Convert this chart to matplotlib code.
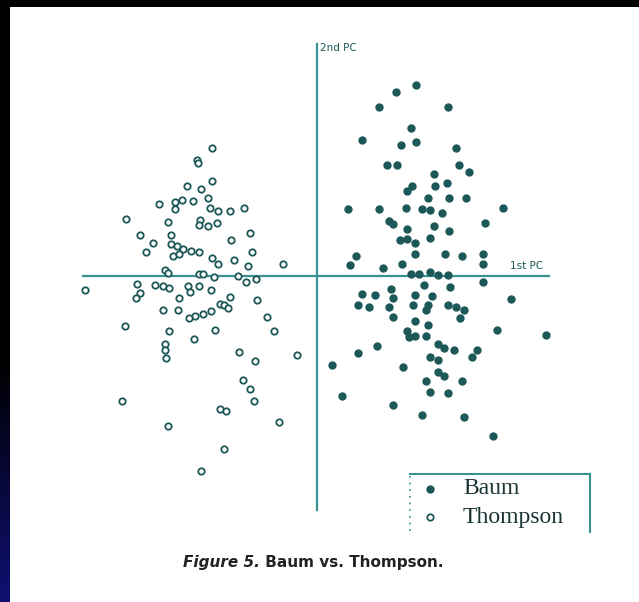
import numpy as np
import matplotlib
matplotlib.use("Agg")
import matplotlib.pyplot as plt
from matplotlib.patches import Rectangle

# principal component scores for each speaker
baum_pc1 = [1.99, 1.59, 1.24, 2.63, 1.88, 0.91, 1.69, 1.99, 2.79, 1.40,
            1.61, 2.85, 3.05, 2.34, 1.81, 1.91, 2.36, 2.61, 0.63, 1.24,
            1.79, 2.10, 2.26, 2.50, 2.22, 2.65, 2.99, 3.73, 1.44, 1.53,
            1.81, 2.34, 2.65, 3.36, 1.66, 1.81, 1.97, 2.26, 0.79, 0.67,
            1.97, 2.56, 2.91, 3.32, 3.32, 1.32, 1.71, 1.89, 2.05, 2.26,
            2.42, 2.63, 3.32, 2.14, 2.67, 1.48, 0.91, 1.16, 1.53, 1.97,
            2.30, 3.89, 0.83, 1.04, 1.44, 1.93, 2.22, 2.18, 2.63, 2.79,
            2.95, 2.87, 1.53, 1.97, 2.22, 1.81, 1.85, 1.97, 2.18, 3.60,
            4.58, 0.83, 1.20, 2.42, 2.54, 2.75, 3.20, 3.11, 2.26, 2.42,
            0.30, 1.73, 2.42, 2.54, 2.18, 2.91, 2.26, 2.63, 0.51, 1.53,
            2.10, 2.95, 3.52]
baum_pc2 = [3.82, 3.69, 3.39, 3.39, 2.97, 2.73, 2.62, 2.69, 2.56, 2.22,
            2.23, 2.22, 2.08, 2.05, 1.71, 1.81, 1.81, 1.87, 1.34, 1.34,
            1.37, 1.34, 1.32, 1.27, 1.57, 1.57, 1.57, 1.37, 1.11, 1.05,
            0.95, 1.01, 0.90, 1.07, 0.72, 0.74, 0.67, 0.76, 0.40, 0.22,
            0.44, 0.44, 0.40, 0.44, 0.24, 0.17, 0.24, 0.05, 0.05, 0.08,
            0.03, 0.03, -0.12, -0.18, -0.22, -0.25, -0.36, -0.38, -0.43, -0.38,
            -0.39, -0.45, -0.58, -0.62, -0.62, -0.58, -0.58, -0.68, -0.58, -0.62,
            -0.68, -0.84, -0.81, -0.89, -0.97, -1.10, -1.22, -1.20, -1.20, -1.07,
            -1.18, -1.54, -1.39, -1.35, -1.43, -1.48, -1.47, -1.61, -1.62, -1.67,
            -1.77, -1.81, -1.91, -2.00, -2.10, -2.10, -2.31, -2.33, -2.39, -2.58,
            -2.77, -2.81, -3.19]

thompson_pc1 = [-2.10, -2.39, -2.37, -2.59, -2.32, -2.10, -3.16, -2.84, -2.69, -2.47,
                -2.18, -2.14, -1.98, -1.74, -1.45, -2.84, -3.81, -2.97, -2.33, -2.36,
                -2.18, -2.00, -1.34, -3.53, -3.28, -3.42, -2.92, -2.92, -2.79, -2.67,
                -2.51, -2.35, -2.88, -2.75, -1.71, -1.29, -2.10, -1.98, -1.65, -1.37,
                -0.68, -3.04, -2.98, -2.35, -2.28, -2.06, -1.57, -1.22, -1.41, -4.63,
                -3.59, -3.54, -3.61, -3.24, -3.08, -2.96, -2.57, -2.53, -2.35, -2.12,
                -2.75, -1.74, -1.19, -1.94, -1.86, -1.78, -2.12, -2.27, -2.43, -2.55,
                -3.08, -2.77, -3.83, -1.00, -2.96, -2.04, -2.45, -0.86, -3.04, -3.04,
                -3.01, -1.56, -1.23, -0.39, -1.47, -1.34, -1.25, -3.89, -1.94, -1.82,
                -0.76, -2.97, -1.86, -2.32]
thompson_pc2 = [2.56, 2.33, 2.26, 1.80, 1.74, 1.90, 1.45, 1.49, 1.53, 1.51,
                1.57, 1.37, 1.31, 1.31, 1.36, 1.34, 1.14, 1.08, 1.13, 1.03,
                1.01, 1.07, 0.87, 0.82, 0.67, 0.49, 0.82, 0.64, 0.61, 0.54,
                0.51, 0.49, 0.41, 0.44, 0.72, 0.48, 0.36, 0.24, 0.32, 0.21,
                0.24, 0.13, 0.07, 0.05, 0.05, -0.02, 0.01, -0.05, -0.12, -0.28,
                -0.16, -0.33, -0.43, -0.18, -0.20, -0.24, -0.20, -0.32, -0.20, -0.28,
                -0.43, -0.42, -0.48, -0.55, -0.58, -0.64, -0.70, -0.76, -0.79, -0.84,
                -0.68, -0.68, -0.99, -0.81, -1.10, -1.08, -1.25, -1.10, -1.35, -1.47,
                -1.64, -1.51, -1.70, -1.58, -2.08, -2.25, -2.50, -2.49, -2.66, -2.70,
                -2.91, -3.00, -3.45, -3.89]

series_names = ["Baum", "Thompson"]
axis_names = ["1st PC", "2nd PC"]
caption_num = "Figure 5."
caption_body = "Baum vs. Thompson."

W, H = 639, 602
INK = "#1d5858"
AXIS = "#3a9191"


def fx(px):
    return px / W


def fy(py):
    return 1 - py / H


fig = plt.figure(figsize=(W / 100, H / 100), dpi=100, facecolor="black")

# white page with a dark blue strip down the left edge
fig.patches.append(Rectangle((fx(10), 0), 1, fy(7), transform=fig.transFigure,
                             facecolor="white", edgecolor="none", zorder=-2))
strip = fig.add_axes([0, 0, fx(10), 1])
t = np.clip((np.linspace(0, 1, H) - 0.6) / 0.4, 0, 1)
grad = np.zeros((H, 1, 3))
grad[:, 0, 0] = 0.06 * t
grad[:, 0, 1] = 0.06 * t
grad[:, 0, 2] = 0.45 * t
strip.imshow(grad, aspect="auto")
strip.axis("off")

# one PC unit = 50 px, origin where the axes cross
ax = fig.add_axes([0, 0, 1, 1])
ax.set_xlim(-317 / 50, (W - 317) / 50)
ax.set_ylim((276 - H) / 50, 276 / 50)
ax.axis("off")
ax.patch.set_visible(False)

ax.plot([-4.67, 4.64], [0, 0], color=AXIS, lw=1.6, zorder=1)
ax.plot([0, 0], [-4.68, 4.64], color=AXIS, lw=1.6, zorder=1)
ax.text(0.06, 4.56, axis_names[1], fontsize=7.5, color=INK, va="center", ha="left")
ax.text(3.86, 0.20, axis_names[0], fontsize=7.5, color=INK, va="center", ha="left")

ax.plot(baum_pc1, baum_pc2, "o", ms=5, color=INK, mec=INK, zorder=3)
ax.plot(thompson_pc1, thompson_pc2, "o", ms=4.6, mfc="white", mec=INK,
        mew=1.3, zorder=3)

# legend box: dotted left side, solid top and right, open bottom
tf = fig.transFigure
fig.add_artist(plt.Line2D([fx(410), fx(590)], [fy(474), fy(474)], color=AXIS, lw=1.5, transform=tf))
fig.add_artist(plt.Line2D([fx(590), fx(590)], [fy(474), fy(532)], color=AXIS, lw=1.5, transform=tf))
fig.add_artist(plt.Line2D([fx(410), fx(410)], [fy(476), fy(532)], color=AXIS, lw=1.2,
                          ls=(0, (1, 3)), transform=tf))
fig.add_artist(plt.Line2D([fx(430)], [fy(489)], marker="o", ms=5, color=INK, transform=tf))
fig.add_artist(plt.Line2D([fx(430)], [fy(517)], marker="o", ms=4.6, mfc="white", mec=INK,
                          mew=1.3, transform=tf))
for name, py in zip(series_names, [489, 517]):
    fig.text(fx(463), fy(py), name, fontsize=17, family="Liberation Serif",
             color="#1a3434", va="center", ha="left")

cap = fig.text(fx(183), fy(562), caption_num, fontsize=11, fontweight="bold",
               style="italic", color="#222222", va="center", ha="left")
ax.annotate(" " + caption_body, xy=(1, 0.5), xycoords=cap, va="center", ha="left",
            fontsize=11, fontweight="bold", color="#222222", annotation_clip=False)

fig.savefig("out.png", dpi=100, facecolor="black")
